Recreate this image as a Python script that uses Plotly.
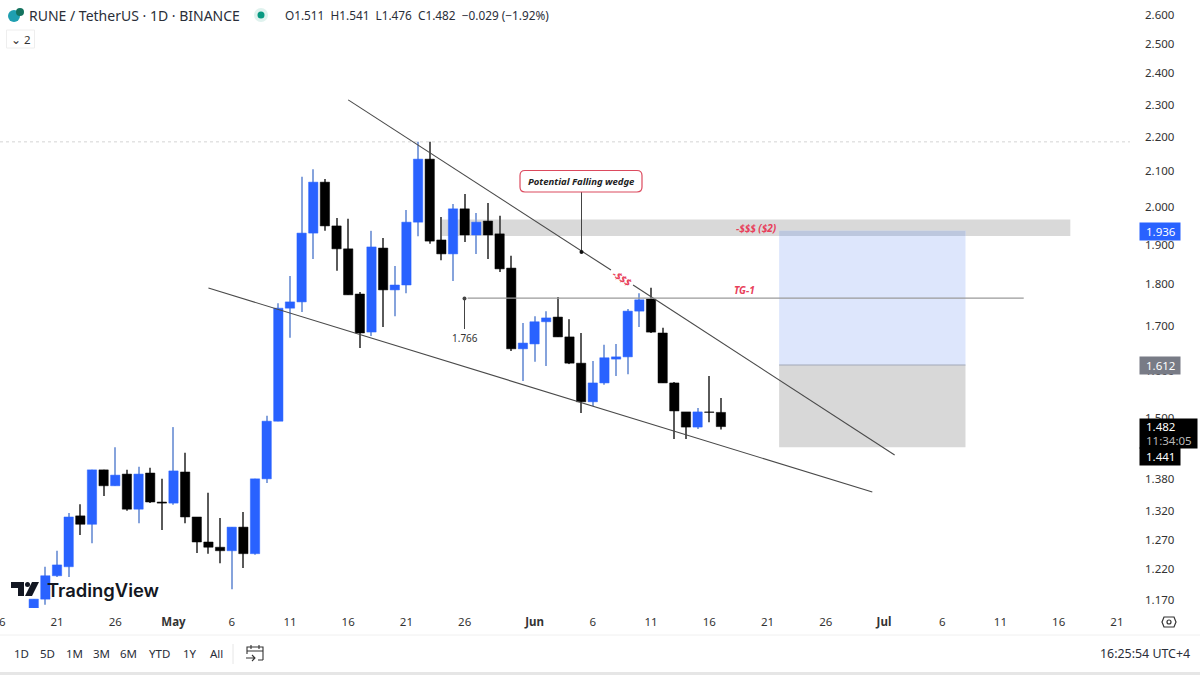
import math
import plotly.graph_objects as go

# ---------- data ----------
dates = ["2025-04-19","2025-04-20","2025-04-21","2025-04-22","2025-04-23","2025-04-24","2025-04-25","2025-04-26","2025-04-27","2025-04-28",
         "2025-04-29","2025-04-30","2025-05-01","2025-05-02","2025-05-03","2025-05-04","2025-05-05","2025-05-06","2025-05-07","2025-05-08",
         "2025-05-09","2025-05-10","2025-05-11","2025-05-12","2025-05-13","2025-05-14","2025-05-15","2025-05-16","2025-05-17","2025-05-18",
         "2025-05-19","2025-05-20","2025-05-21","2025-05-22","2025-05-23","2025-05-24","2025-05-25","2025-05-26","2025-05-27","2025-05-28",
         "2025-05-29","2025-05-30","2025-05-31","2025-06-01","2025-06-02","2025-06-03","2025-06-04","2025-06-05","2025-06-06","2025-06-07",
         "2025-06-08","2025-06-09","2025-06-10","2025-06-11","2025-06-12","2025-06-13","2025-06-14","2025-06-15","2025-06-16","2025-06-17"]
opens = [1.157,1.171,1.209,1.224,1.312,1.297,1.397,1.367,1.389,1.324,
         1.391,1.337,1.335,1.393,1.310,1.266,1.257,1.251,1.292,1.246,
         1.380,1.493,1.742,1.757,1.930,2.069,1.949,1.889,1.776,1.686,
         1.891,1.786,1.798,1.959,2.135,1.912,1.876,1.995,1.925,1.962,
         1.928,1.840,1.648,1.659,1.710,1.721,1.675,1.616,1.533,1.573,
         1.625,1.630,1.735,1.764,1.684,1.573,1.512,1.481,1.512,1.511]
highs = [1.171,1.224,1.251,1.317,1.333,1.397,1.397,1.441,1.397,1.403,
         1.401,1.380,1.481,1.430,1.310,1.354,1.308,1.292,1.319,1.380,
         1.504,1.754,1.820,2.084,2.106,2.078,1.970,1.968,1.781,1.936,
         1.917,1.845,1.992,2.186,2.186,1.973,2.008,2.036,1.984,2.011,
         1.976,1.871,1.707,1.723,1.735,1.769,1.716,1.684,1.621,1.657,
         1.659,1.740,1.778,1.791,1.696,1.575,1.512,1.520,1.588,1.541]
lows = [1.157,1.162,1.207,1.207,1.278,1.264,1.348,1.367,1.321,1.299,
        1.335,1.287,1.332,1.299,1.247,1.246,1.230,1.187,1.222,1.244,
        1.372,1.493,1.673,1.733,1.863,1.936,1.833,1.774,1.650,1.677,
        1.698,1.723,1.778,1.922,1.902,1.860,1.808,1.907,1.876,1.863,
        1.830,1.643,1.577,1.619,1.610,1.675,1.614,1.510,1.524,1.569,
        1.588,1.592,1.698,1.684,1.573,1.457,1.457,1.477,1.491,1.476]
closes = [1.171,1.209,1.227,1.310,1.297,1.397,1.367,1.387,1.324,1.389,
          1.337,1.335,1.395,1.310,1.266,1.257,1.251,1.292,1.246,1.380,
          1.493,1.742,1.757,1.930,2.069,1.949,1.889,1.774,1.684,1.894,
          1.786,1.798,1.959,2.135,1.909,1.876,1.995,1.925,1.959,1.925,
          1.838,1.648,1.661,1.710,1.719,1.675,1.616,1.533,1.573,1.628,
          1.630,1.735,1.762,1.686,1.573,1.514,1.481,1.512,1.511,1.482]

x_tick_dates = ["2025-04-21","2025-04-26","2025-05-01","2025-05-06","2025-05-11","2025-05-16","2025-05-21","2025-05-26",
                "2025-06-01","2025-06-06","2025-06-11","2025-06-16","2025-06-21","2025-06-26","2025-07-01","2025-07-06",
                "2025-07-11","2025-07-16","2025-07-21"]
x_tick_text = ["21","26","<b>May</b>","6","11","16","21","26","<b>Jun</b>","6","11","16","21","26","<b>Jul</b>","6","11","16","21"]
y_ticks = [2.6,2.5,2.4,2.3,2.2,2.1,2.0,1.9,1.8,1.7,1.6,1.5,1.38,1.32,1.27,1.22,1.17]

upper_x1 = ["2025-05-16","2025-06-07 13:30"]
upper_y1 = [2.315,1.835]
upper_x2 = ["2025-06-09 11:00","2025-07-01 22:00"]
upper_y2 = [1.798,1.4257]
lower_x = ["2025-05-04","2025-06-30"]
lower_y = [1.7906,1.3554]
tg_x = ["2025-05-26 06:00","2025-07-13"]
tg_price = 1.766
high_price = 2.186
target, entry, stop = 1.936, 1.612, 1.441
liq_low, liq_high = 1.9225, 1.9660
zone_left, zone_right = "2025-06-22", "2025-07-08"
liq_left, liq_right = "2025-05-24", "2025-07-17"

# ---------- styling ----------
BLUE = "#2962ff"; BLACK = "#000000"; TEXT = "#2a2e39"; RED = "#e8405a"
FONT = "Noto Sans"
W, H = 1200, 675
R = 1130; B = 608
DAY_MS = 86400000
def px(x): return x / R
def py(y): return 1 - y / B

fig = go.Figure()
is_up = [c >= o for o, c in zip(opens, closes)]
# wicks (thin floating bars)
fig.add_trace(go.Bar(x=dates, y=[h - l for h, l in zip(highs, lows)], base=lows, width=0.09 * DAY_MS,
    marker=dict(color=["#86a3dc" if u else "#5a5a5a" for u in is_up], line_width=0), showlegend=False, hoverinfo="skip"))
# bodies (wide floating bars)
fig.add_trace(go.Bar(x=dates, y=[abs(c - o) for o, c in zip(opens, closes)], base=[min(o, c) for o, c in zip(opens, closes)],
    width=0.80 * DAY_MS,
    marker=dict(color=[BLUE if u else BLACK for u in is_up], line=dict(color=[BLUE if u else BLACK for u in is_up], width=0.5)),
    showlegend=False, hoverinfo="skip"))

def add_line(xs, ys, color="#555555", width=1):
    fig.add_trace(go.Scatter(x=xs, y=ys, mode="lines", line=dict(color=color, width=width), showlegend=False, hoverinfo="skip"))

add_line(upper_x1, upper_y1, "#4a4a4a", 1.1)
add_line(upper_x2, upper_y2, "#4a4a4a", 1.1)
add_line(lower_x, lower_y, "#4a4a4a", 1.1)
add_line(tg_x, [tg_price, tg_price], "#9a9a9a", 1.2)
add_line([zone_left, zone_right], [entry, entry], "#a2a8b8", 1.2)

shapes = [
    dict(type="rect", xref="x", yref="y", x0=liq_left, x1=liq_right, y0=liq_low, y1=liq_high, fillcolor="#d9d9d9", line_width=0, layer="below"),
    dict(type="rect", xref="x", yref="y", x0=zone_left, x1=zone_right, y0=entry, y1=target, fillcolor="#dde6fc", line_width=0, layer="below"),
    dict(type="rect", xref="x", yref="y", x0=zone_left, x1=zone_right, y0=liq_low, y1=target, fillcolor="#bcc7de", line_width=0, layer="below"),
    dict(type="rect", xref="x", yref="y", x0=zone_left, x1=zone_right, y0=stop, y1=entry, fillcolor="#d8d8d8", line_width=0, layer="below"),
    dict(type="line", xref="paper", yref="y", x0=0, x1=1, y0=high_price, y1=high_price, line=dict(color="#d4d4d4", width=1, dash="dot"), layer="below"),
    # separators of the toolbar
    dict(type="line", xref="paper", yref="paper", x0=px(0), x1=px(W), y0=py(635), y1=py(635), line=dict(color="#f0f0f0", width=1)),
    dict(type="rect", xref="paper", yref="paper", x0=px(0), x1=px(W), y0=py(H), y1=py(672), fillcolor="#e6e6e6", line_width=0),
    dict(type="line", xref="paper", yref="paper", x0=px(233), x1=px(233), y0=py(644), y1=py(664), line=dict(color="#e6e6e6", width=1)),
    # "1.766" callout stem and dot
    dict(type="line", xref="paper", yref="paper", x0=px(464.5), x1=px(464.5), y0=py(298), y1=py(329), line=dict(color="#444444", width=1)),
    dict(type="circle", xref="paper", yref="paper", x0=px(462.5), x1=px(466.5), y0=py(300.5), y1=py(296.5), fillcolor="#444444", line_width=0),
    # wedge callout stem and dot
    dict(type="line", xref="paper", yref="paper", x0=px(581.5), x1=px(581.5), y0=py(192), y1=py(252), line=dict(color="#444444", width=1)),
    dict(type="circle", xref="paper", yref="paper", x0=px(579.5), x1=px(583.5), y0=py(254), y1=py(250), fillcolor="#111111", line_width=0),
    # status dot
    dict(type="circle", xref="paper", yref="paper", x0=px(254), x1=px(268), y0=py(22), y1=py(8), fillcolor="#dff2ee", line_width=0),
    dict(type="circle", xref="paper", yref="paper", x0=px(257.5), x1=px(264.5), y0=py(18.5), y1=py(11.5), fillcolor="#089981", line_width=0),
    # coin icon
    dict(type="circle", xref="paper", yref="paper", x0=px(8), x1=px(20), y0=py(22), y1=py(10), fillcolor="#1f9fb0", line_width=0),
    dict(type="circle", xref="paper", yref="paper", x0=px(16), x1=px(24), y0=py(16), y1=py(8), fillcolor="#14735f", line_width=0),
    # legend collapse box
    dict(type="rect", xref="paper", yref="paper", x0=px(6.5), x1=px(34.5), y0=py(48), y1=py(30), line=dict(color="#eeeeee", width=1), fillcolor="white"),
    # settings icon
    dict(type="path", xref="paper", yref="paper",
         path=" ".join(("M" if i == 0 else "L") + f"{px(a):.5f},{py(b):.5f}" for i, (a, b) in enumerate(
             [(1164,617),(1174,617),(1176,622),(1174,627),(1164,627),(1162,622)])) + " Z",
         line=dict(color="#333333", width=1.2)),
    dict(type="circle", xref="paper", yref="paper", x0=px(1167), x1=px(1171), y0=py(624), y1=py(620), line=dict(color="#333333", width=1.2)),
    # calendar icon
    dict(type="path", xref="paper", yref="paper",
         path=f"M{px(263):.5f},{py(660):.5f} L{px(263):.5f},{py(647):.5f} L{px(247):.5f},{py(647):.5f} L{px(247):.5f},{py(654):.5f} "
              f"M{px(247):.5f},{py(651):.5f} L{px(263):.5f},{py(651):.5f} M{px(251):.5f},{py(645):.5f} L{px(251):.5f},{py(649):.5f} "
              f"M{px(259):.5f},{py(645):.5f} L{px(259):.5f},{py(649):.5f} M{px(246):.5f},{py(658):.5f} L{px(255):.5f},{py(658):.5f} "
              f"M{px(252):.5f},{py(655):.5f} L{px(255):.5f},{py(658):.5f} L{px(252):.5f},{py(661):.5f} M{px(258):.5f},{py(660):.5f} L{px(263):.5f},{py(660):.5f}",
         line=dict(color="#333333", width=1.1)),
    # wedge callout box
    dict(type="path", xref="paper", yref="paper",
         path=f"M{px(525):.5f},{py(170.5):.5f} L{px(637):.5f},{py(170.5):.5f} Q{px(642):.5f},{py(170.5):.5f} {px(642):.5f},{py(175.5):.5f} "
              f"L{px(642):.5f},{py(187):.5f} Q{px(642):.5f},{py(192):.5f} {px(637):.5f},{py(192):.5f} L{px(525):.5f},{py(192):.5f} "
              f"Q{px(520):.5f},{py(192):.5f} {px(520):.5f},{py(187):.5f} L{px(520):.5f},{py(175.5):.5f} Q{px(520):.5f},{py(170.5):.5f} {px(525):.5f},{py(170.5):.5f} Z",
         fillcolor="white", line=dict(color="#dc4a5e", width=1.2)),
    # TradingView mark
    dict(type="path", xref="paper", yref="paper",
         path=f"M{px(11):.5f},{py(582):.5f} L{px(24):.5f},{py(582):.5f} L{px(24):.5f},{py(596):.5f} L{px(18):.5f},{py(596):.5f} L{px(18):.5f},{py(588):.5f} L{px(11):.5f},{py(588):.5f} Z",
         fillcolor="#131722", line_width=0),
    dict(type="circle", xref="paper", yref="paper", x0=px(25), x1=px(30), y0=py(587), y1=py(582), fillcolor="#131722", line_width=0),
    dict(type="path", xref="paper", yref="paper",
         path=f"M{px(32):.5f},{py(582):.5f} L{px(39):.5f},{py(582):.5f} L{px(32):.5f},{py(596):.5f} L{px(25):.5f},{py(596):.5f} Z",
         fillcolor="#131722", line_width=0),
]

ann = []
def note(x, y, text, size=11, color=TEXT, anchor="left", **kw):
    ann.append(dict(x=px(x), y=py(y), xref="paper", yref="paper", text=text, showarrow=False, xanchor=anchor, yanchor="middle",
                    font=dict(family=kw.pop("family", FONT), size=size, color=color, weight=kw.pop("weight", "normal"),
                              style=kw.pop("style", "normal")), **kw))

note(26.5, 15.5, "RUNE / TetherUS · 1D · BINANCE", 14, "#2a2e39")
note(282.5, 15.5, "O1.511  H1.541  L1.476  C1.482  −0.029 (−1.92%)", 11.8, "#2a2e39")
note(20.5, 39, "⌄ 2", 11.5, "#333333", "center")
note(2, 621, "6", 11.5, "#333333", "center")
note(45, 590, "TradingView", 18.4, "#131722", weight=600, family="Inter")
note(581, 181, "Potential Falling wedge", 9.5, "#222222", "center", weight="bold", style="italic")
note(465, 338, "1.766", 10, "#333333", "center")
note(756, 228, "-$$$ ($2)", 10, RED, "center", weight="bold", style="italic")
note(744.5, 290, "TG-1", 10, RED, "center", weight="bold", style="italic")
note(622, 278, "-$$$", 10, RED, "center", weight="bold", style="italic", textangle=33)
for label, x0 in zip(["1D","5D","1M","3M","6M","YTD","1Y","All"], [21,47,74,101,128,159,190,216]):
    note(x0, 653, label, 11.5, "#2a2e39", "center")
note(1192, 653, "16:25:54 UTC+4", 12.4, "#2a2e39", "right")

# price boxes
def box(y, text, bg, width=40, height=17, tcolor="white"):
    ann.append(dict(x=px(1139), y=py(y), xref="paper", yref="paper", text=text, showarrow=False, xanchor="left", yanchor="middle",
                    width=width, height=height, align="left", bgcolor=bg, borderpad=0,
                    font=dict(family=FONT, size=11.5, color=tcolor)))
box(231.7, "  1.936", BLUE)
box(365, "  1.612", "#787b86")
box(433, "  1.482<br>  <span style='color:#b8b8b8'>11:34:05</span>", BLACK, 57, 29)
box(456, "  1.441", BLACK)

fig.update_layout(
    width=W, height=H, margin=dict(l=0, r=W-R, t=0, b=H-B, autoexpand=False),
    paper_bgcolor="white", plot_bgcolor="white", showlegend=False, barmode="overlay",
    shapes=shapes, annotations=ann, hovermode=False,
    font=dict(family=FONT, size=11.5, color="#333333"),
    xaxis=dict(type="date", range=["2025-04-16 02:30","2025-07-22 03:00"], showgrid=False,
               zeroline=False, showline=False, tickmode="array", tickvals=x_tick_dates, ticktext=x_tick_text, ticks="",
               tickfont=dict(family=FONT, size=11.5, color="#333333"), tickangle=0, ticklabelstandoff=5),
    yaxis=dict(type="log", side="right", range=[0.06331, 0.42374], showgrid=False, zeroline=False, showline=False,
               tickmode="array", tickvals=y_ticks, ticktext=[f"{v:.3f}" for v in y_ticks], ticks="",
               tickfont=dict(family=FONT, size=11.5, color="#333333"), ticklabelstandoff=14),
)
fig.write_html("out.html", config=dict(displayModeBar=False), post_script="document.body.style.margin='0';")
